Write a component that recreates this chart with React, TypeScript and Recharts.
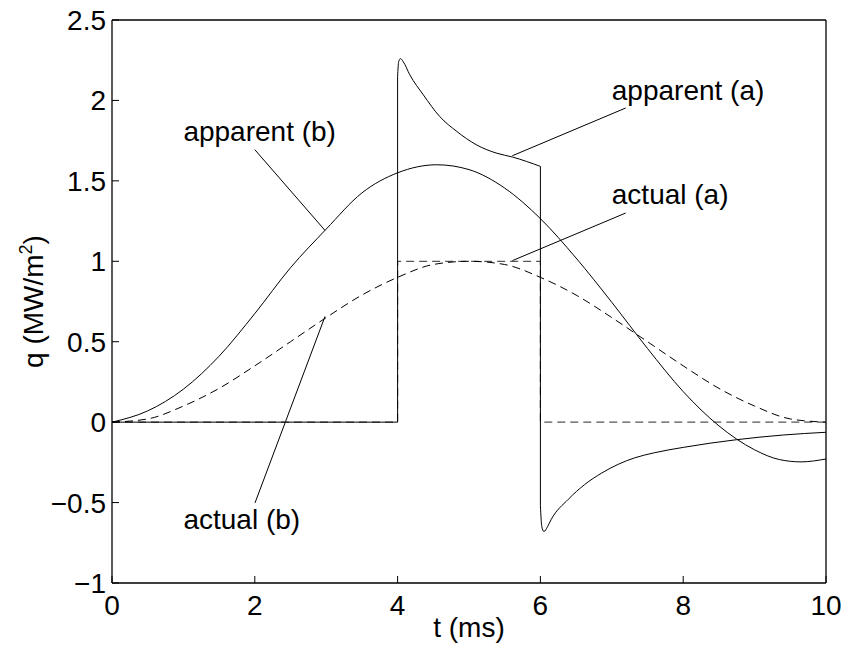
import React from "react";
import { LineChart, Line, XAxis, YAxis, ReferenceLine, ReferenceDot } from "recharts";

// time axis (ms) and heat flux axis (MW/m^2)
const xTicks = [0, 2, 4, 6, 8, 10];
const yTicks = [-1, -0.5, 0, 0.5, 1, 1.5, 2, 2.5];

// actual (a): rectangular pulse between 4 and 6 ms
const actualA: [number, number][] = [
  [0, 0], [4, 0], [4, 1], [6, 1], [6, 0], [10, 0],
];

// actual (b): smooth bell shaped pulse
const actualB: [number, number][] = [
  [0, 0], [0.5, 0.02], [1, 0.1], [1.5, 0.21], [2, 0.35], [2.5, 0.5],
  [3, 0.65], [3.5, 0.79], [4, 0.9], [4.5, 0.98], [5, 1], [5.5, 0.98],
  [6, 0.9], [6.5, 0.79], [7, 0.65], [7.5, 0.5], [8, 0.35], [8.5, 0.21],
  [9, 0.1], [9.5, 0.02], [10, 0],
];

// apparent (b)
const apparentB: [number, number][] = [
  [0, 0], [0.5, 0.07], [1, 0.205], [1.5, 0.41], [2, 0.675], [2.5, 0.96],
  [3, 1.2], [3.5, 1.425], [4, 1.55], [4.55, 1.6], [5, 1.57], [5.5, 1.455],
  [6, 1.265], [6.5, 1.02], [7, 0.745], [7.5, 0.458], [8, 0.19],
  [8.5, -0.023], [9, -0.172], [9.35, -0.233], [9.65, -0.247], [10, -0.229],
];

// apparent (a), in pieces so the jumps stay vertical
const apparentARise: [number, number][] = [[0, 0], [4, 0], [4, 2.15]];
const apparentADecay: [number, number][] = [
  [4, 2.15], [4.015, 2.24], [4.04, 2.26], [4.08, 2.24], [4.17, 2.16],
  [4.36, 2.035], [4.59, 1.9], [4.83, 1.807], [5.1, 1.725], [5.38, 1.673],
  [5.61, 1.648], [6, 1.59],
];
const apparentADrop: [number, number][] = [[6, 1.59], [6, -0.52]];
const apparentARecover: [number, number][] = [
  [6, -0.52], [6.02, -0.65], [6.05, -0.68], [6.1, -0.65], [6.15, -0.606],
  [6.39, -0.48], [6.62, -0.388], [6.86, -0.316], [7.09, -0.262],
  [7.32, -0.222], [7.6, -0.19], [8, -0.157], [8.75, -0.109],
  [9.4, -0.08], [10, -0.063],
];

// annotations: label text, text anchor point, leader line from -> to
const notes = [
  { text: "apparent (b)", at: [1.0, 1.745], from: [2.0, 1.694], to: [2.983, 1.192] },
  { text: "apparent (a)", at: [7.0, 2.0], from: [7.195, 1.953], to: [5.607, 1.656] },
  { text: "actual (a)", at: [7.0, 1.358], from: [7.195, 1.3], to: [5.607, 1.004] },
  { text: "actual (b)", at: [1.0, -0.662], from: [2.003, -0.502], to: [2.983, 0.657] },
];

const toRows = (pts: [number, number][]) => pts.map(([t, q]) => ({ t, q }));

const FONT = "'Liberation Sans', Arial, Helvetica, sans-serif";
const tickStyle = { fontSize: 28, fill: "#000", fontFamily: FONT };
const minus = (v: number) => String(v).replace("-", "\u2212");

const XLabel = (props: any) => {
  const vb = props.viewBox || { x: 112, y: 583, width: 714 };
  return (
    <text x={vb.x + vb.width / 2} y={vb.y + 54} textAnchor="middle" fontSize={28} fontFamily={FONT} fill="#000">
      t (ms)
    </text>
  );
};

const YLabel = (props: any) => {
  const vb = props.viewBox || { x: 0, y: 20, width: 112, height: 563 };
  const cx = vb.x + 43;
  const cy = vb.y + vb.height / 2;
  return (
    <text
      x={cx}
      y={cy}
      transform={`rotate(-90 ${cx} ${cy})`}
      textAnchor="middle"
      fontSize={28}
      fontFamily={FONT}
      fill="#000"
    >
      q (MW/m
      <tspan dy={-11} fontSize={18}>2</tspan>
      <tspan dy={11}>)</tspan>
    </text>
  );
};

const App = () => {
  const solid = { stroke: "#000", strokeWidth: 1, dot: false, isAnimationActive: false, dataKey: "q" };
  return (
    <div style={{ width: 848, height: 655, background: "#fff" }}>
      <style>{"body{margin:0}"}</style>
      <LineChart width={848} height={655} margin={{ top: 0, right: 0, bottom: 0, left: 0 }} style={{ fontFamily: FONT }}>
        <XAxis
          dataKey="t"
          type="number"
          domain={[0, 10]}
          ticks={xTicks}
          height={72}
          tick={tickStyle}
          tickSize={-7}
          tickMargin={19}
          stroke="#000"
          strokeWidth={1.3}
          tickLine={{ stroke: "#000", strokeWidth: 1 }}
          label={<XLabel />}
        />
        <XAxis
          xAxisId="top"
          orientation="top"
          type="number"
          domain={[0, 10]}
          ticks={xTicks}
          height={20}
          tick={false}
          tickSize={-7}
          stroke="#000"
          strokeWidth={1.3}
          tickLine={{ stroke: "#000", strokeWidth: 1 }}
        />
        <YAxis
          type="number"
          domain={[-1, 2.5]}
          ticks={yTicks}
          width={112}
          tick={tickStyle}
          tickFormatter={minus}
          tickSize={-7}
          tickMargin={13}
          stroke="#000"
          strokeWidth={1.3}
          tickLine={{ stroke: "#000", strokeWidth: 1 }}
          label={<YLabel />}
        />
        <YAxis
          yAxisId="r"
          orientation="right"
          type="number"
          domain={[-1, 2.5]}
          ticks={yTicks}
          width={22}
          tick={false}
          tickSize={-7}
          stroke="#000"
          strokeWidth={1.3}
          tickLine={{ stroke: "#000", strokeWidth: 1 }}
        />

        {notes.map((n) => (
          <ReferenceLine
            key={"l" + n.text}
            segment={[{ x: n.from[0], y: n.from[1] }, { x: n.to[0], y: n.to[1] }]}
            stroke="#000"
            strokeWidth={1}
          />
        ))}

        <Line {...solid} data={toRows(actualA)} type="linear" stroke="#555" strokeWidth={1.2} strokeDasharray="8 5" />
        <Line {...solid} data={toRows(actualB)} type="monotone" strokeDasharray="8 5" />
        <Line {...solid} data={toRows(apparentB)} type="monotone" />
        <Line {...solid} data={toRows(apparentARise)} type="linear" />
        <Line {...solid} data={toRows(apparentADecay)} type="monotone" />
        <Line {...solid} data={toRows(apparentADrop)} type="linear" />
        <Line {...solid} data={toRows(apparentARecover)} type="monotone" />

        {notes.map((n) => (
          <ReferenceDot
            key={"t" + n.text}
            x={n.at[0]}
            y={n.at[1]}
            r={0}
            shape={(p: any) => (
              <text x={p.cx} y={p.cy} fontSize={28} fontFamily={FONT} fill="#000">
                {n.text}
              </text>
            )}
          />
        ))}
      </LineChart>
    </div>
  );
};

export default App;
